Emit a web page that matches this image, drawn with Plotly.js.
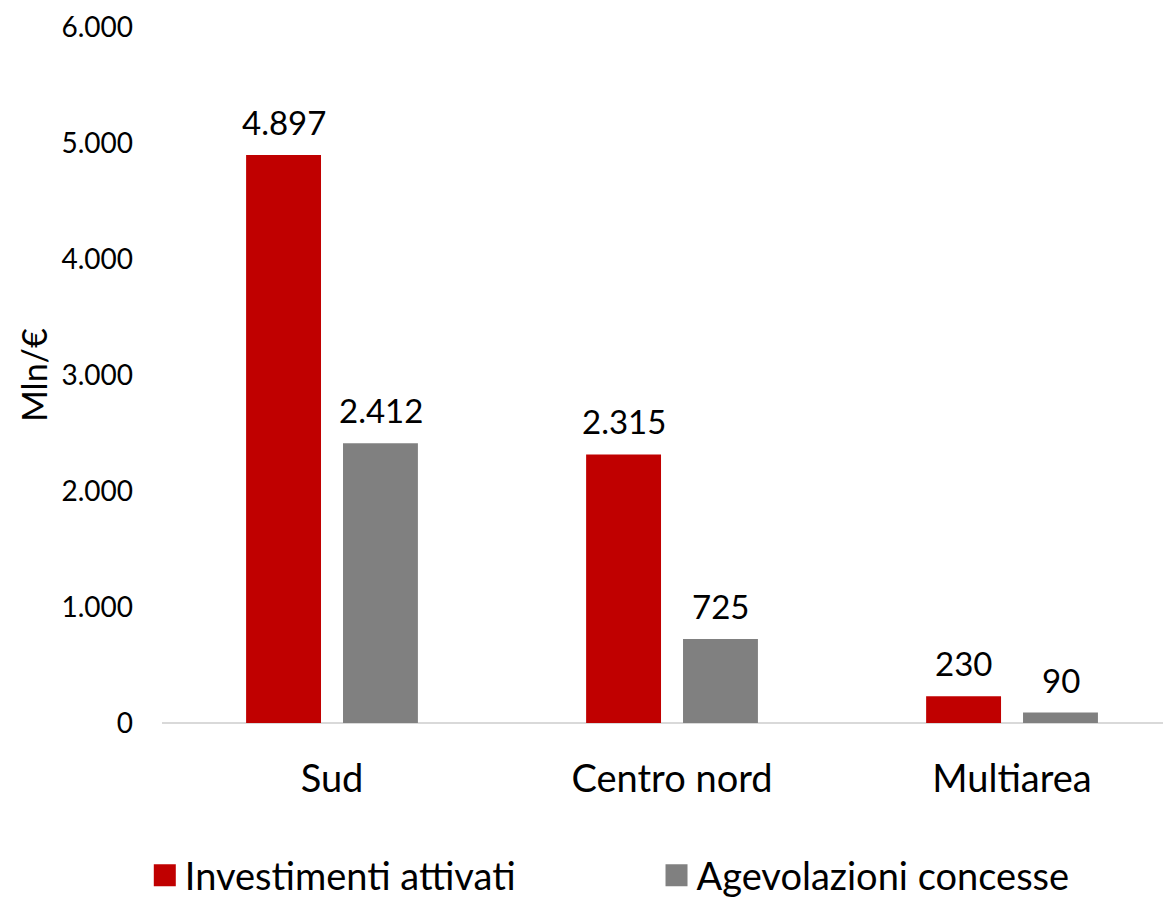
<!DOCTYPE html>
<html><head><meta charset="utf-8">
<script src="https://cdn.plot.ly/plotly-3.0.1.min.js"></script>
<style>body{margin:0;background:#fff}#chart{width:1163px;height:899px}</style>
</head><body><div id="chart"></div>
<script>
const categories = ["Sud", "Centro nord", "Multiarea"];
const seriesNames = ["Investimenti attivati", "Agevolazioni concesse"];
const investimenti = [4897, 2315, 230];
const agevolazioni = [2412, 725, 90];
const yTickVals = [0, 1000, 2000, 3000, 4000, 5000, 6000];
const yTickText = ["0", "1.000", "2.000", "3.000", "4.000", "5.000", "6.000"];
const colors = ["#c00000", "#808080"];

const FONT = "Lato, 'Open Sans', sans-serif";
function fmt(v){ return v.toString().replace(/\B(?=(\d{3})+(?!\d))/g, "."); }

const series = [investimenti, agevolazioni];
const legendIds = ["legend", "legend2"];
const traces = series.map((vals, i) => ({
  type: "bar", name: seriesNames[i], x: categories, y: vals,
  marker: {color: colors[i]}, hoverinfo: "skip", legend: legendIds[i]
}));

const slotPx = 48.5;
const annotations = [];
series.forEach((vals, i) => {
  vals.forEach((v, j) => {
    annotations.push({
      x: categories[j], y: v, xref: "x", yref: "y", text: fmt(v),
      showarrow: false, yanchor: "bottom", xanchor: "center",
      xshift: (i === 0 ? -1 : 1) * slotPx, yshift: 11,
      font: {family: FONT, size: 33, color: "#000"}
    });
  });
});

const legendBase = {orientation: "h", xref: "container", yref: "container", y: 0,
  xanchor: "left", yanchor: "bottom", font: {family: FONT, size: 38, color: "#000"},
  itemwidth: 30, bgcolor: "rgba(0,0,0,0)"};

const layout = {
  width: 1163, height: 899,
  margin: {l: 162, r: 0, t: 27, b: 176},
  paper_bgcolor: "#fff", plot_bgcolor: "#fff",
  font: {family: FONT, color: "#000"},
  barmode: "group", bargap: 0.43, bargroupgap: 0.227,
  showlegend: true,
  legend: Object.assign({}, legendBase, {x: 0.1245}),
  legend2: Object.assign({}, legendBase, {x: 0.5645}),
  xaxis: {range: [-0.5, 2.444], showgrid: false, zeroline: false, showline: false,
    ticks: "", tickfont: {family: FONT, size: 38, color: "#000"}, ticklabelstandoff: 30,
    fixedrange: true},
  yaxis: {range: [0, 6000], tickvals: yTickVals, ticktext: yTickText, showgrid: false,
    zeroline: true, zerolinecolor: "#d9d9d9", zerolinewidth: 2, showline: false, ticks: "",
    tickfont: {family: FONT, size: 28, color: "#000"}, ticklabelstandoff: 28,
    title: {text: "Mln/€", font: {family: FONT, size: 34, color: "#000"}, standoff: 3},
    fixedrange: true},
  annotations: annotations
};
Plotly.newPlot("chart", traces, layout, {displayModeBar: false, staticPlot: true}).then(gd => {
  gd.querySelectorAll(".legendpoints path").forEach(p => {
    p.setAttribute("d", "M11,11H-11V-11H11Z");
  });
  gd.querySelectorAll("g.legend, g.legend2").forEach(g => {
    const t = g.getAttribute("transform") || "";
    const m = t.match(/translate\(\s*([-\d.]+)[ ,]+([-\d.]+)\s*\)/);
    if (m) g.setAttribute("transform", "translate(" + m[1] + "," + (parseFloat(m[2]) + 8) + ")");
  });
});
</script></body></html>
